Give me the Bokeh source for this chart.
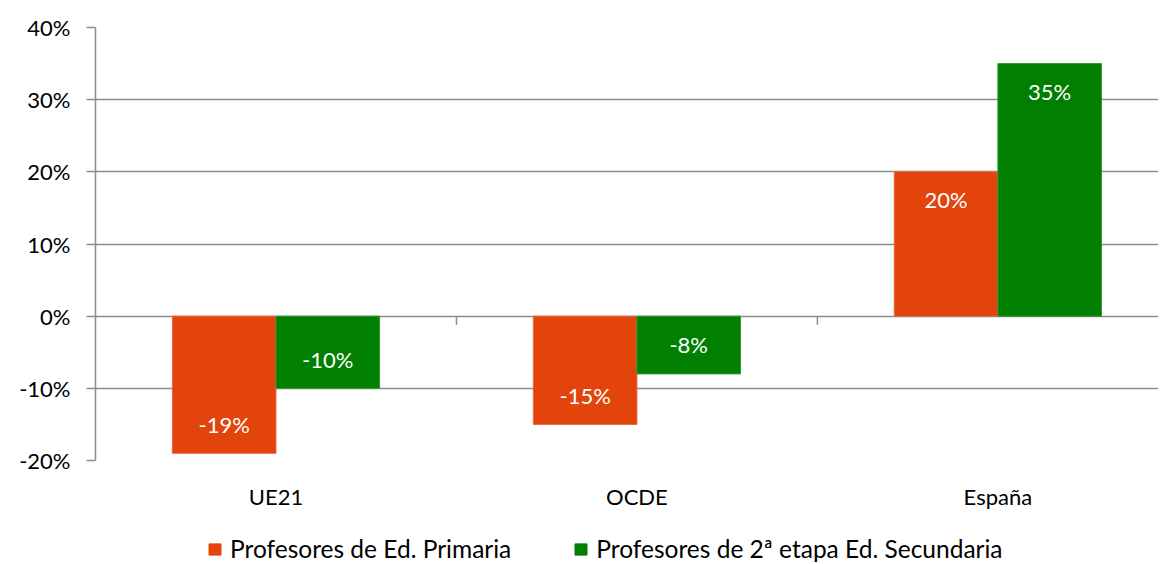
from bokeh.plotting import figure
from bokeh.layouts import column
from bokeh.models import (Range1d, FixedTicker, PrintfTickFormatter, Legend,
                          LegendItem, ColumnDataSource)
from bokeh.embed import file_html
from bokeh.resources import INLINE
from bokeh.core.properties import value

# ---- data ----
categories = ["UE21", "OCDE", "España"]
primaria = [-19, -15, 20]
secundaria = [-10, -8, 35]
series_names = ["Profesores de Ed. Primaria",
                "Profesores de 2ª etapa Ed. Secundaria"]
y_ticks = [-20, -10, 0, 10, 20, 30, 40]

# ---- style ----
ORANGE = "#E2440C"
GREEN = "#007F00"
GRAY = "#8C8C8C"
FONT = "Lato"
FS = "22px"
LFS = "24.5px"

n = len(categories)
centers = [i + 0.5 for i in range(n)]
bw = 0.287

p = figure(width=1158, height=515,
           x_range=Range1d(0, 2.945), y_range=Range1d(-20, 40),
           output_backend="svg", toolbar_location=None,
           min_border_left=95, min_border_right=0,
           min_border_top=27, min_border_bottom=55)
p.outline_line_color = None
p.background_fill_color = "white"
p.border_fill_color = "white"

src1 = ColumnDataSource(dict(
    x=[c - bw / 2 for c in centers], top=primaria,
    lab=[f"{v}%" for v in primaria],
    off=[28 if v > 0 else -29 for v in primaria]))
src2 = ColumnDataSource(dict(
    x=[c + bw / 2 for c in centers], top=secundaria,
    lab=[f"{v}%" for v in secundaria],
    off=[28 if v > 0 else -29 for v in secundaria]))

p.vbar(x="x", top="top", bottom=0, width=bw, source=src1,
       fill_color=ORANGE, line_color="#E8663A", line_width=1)
p.vbar(x="x", top="top", bottom=0, width=bw, source=src2,
       fill_color=GREEN, line_color="#2E9A2E", line_width=1)

for s in (src1, src2):
    p.text(x="x", y="top", text="lab", y_offset="off", source=s,
           text_align="center", text_baseline="middle",
           text_color="white", text_font=value(FONT), text_font_size=FS)

# category boundary ticks on the zero line
bounds = list(range(1, n))
p.segment(x0=bounds, y0=[0] * len(bounds), x1=bounds, y1=[-1.2] * len(bounds),
          line_color=GRAY, line_width=1.5)

# y axis
yt = FixedTicker(ticks=y_ticks)
p.yaxis.ticker = yt
p.yaxis.formatter = PrintfTickFormatter(format="%d%%")
p.yaxis.axis_line_color = GRAY
p.yaxis.axis_line_width = 1.5
p.yaxis.major_tick_line_color = GRAY
p.yaxis.major_tick_line_width = 1.5
p.yaxis.major_tick_out = 9
p.yaxis.major_tick_in = 0
p.yaxis.minor_tick_line_color = None
p.yaxis.major_label_standoff = 16
p.yaxis.major_label_text_font = FONT
p.yaxis.major_label_text_font_size = FS
p.yaxis.major_label_text_color = "black"

p.ygrid.ticker = yt
p.ygrid.grid_line_color = GRAY
p.ygrid.grid_line_width = 1.5
p.xgrid.visible = False

# x axis
p.xaxis.ticker = FixedTicker(ticks=centers)
p.xaxis.major_label_overrides = {c: name for c, name in zip(centers, categories)}
p.xaxis.axis_line_color = None
p.xaxis.major_tick_line_color = None
p.xaxis.minor_tick_line_color = None
p.xaxis.major_tick_out = 0
p.xaxis.major_tick_in = 0
p.xaxis.major_label_standoff = 22
p.xaxis.major_label_text_font = FONT
p.xaxis.major_label_text_font_size = FS
p.xaxis.major_label_text_color = "black"

# ---- legend strip (separate figure under the chart) ----
pl = figure(width=1158, height=48, x_range=Range1d(0, 1), y_range=Range1d(0, 1),
            x_axis_type=None, y_axis_type=None,
            output_backend="svg", toolbar_location=None,
            min_border_left=0, min_border_right=0,
            min_border_top=0, min_border_bottom=0)
pl.outline_line_color = None
pl.grid.visible = False
# legend swatch proxies, kept outside the strip's visible range
l1 = pl.vbar(x=[-5], top=[0], bottom=[0], width=0.1,
             fill_color=ORANGE, line_color=ORANGE)
l2 = pl.vbar(x=[-5], top=[0], bottom=[0], width=0.1,
             fill_color=GREEN, line_color=GREEN)

legend = Legend(items=[LegendItem(label=series_names[0], renderers=[l1]),
                       LegendItem(label=series_names[1], renderers=[l2])],
                orientation="horizontal", location=(112, 0),
                glyph_width=15, glyph_height=14, label_standoff=8,
                spacing=62, padding=0, margin=0,
                border_line_color=None, background_fill_alpha=0,
                label_text_font=FONT, label_text_font_size=LFS,
                label_text_color="black")
pl.add_layout(legend)

layout = column(p, pl, spacing=0)
open("out.html", "w").write(file_html(layout, INLINE))
